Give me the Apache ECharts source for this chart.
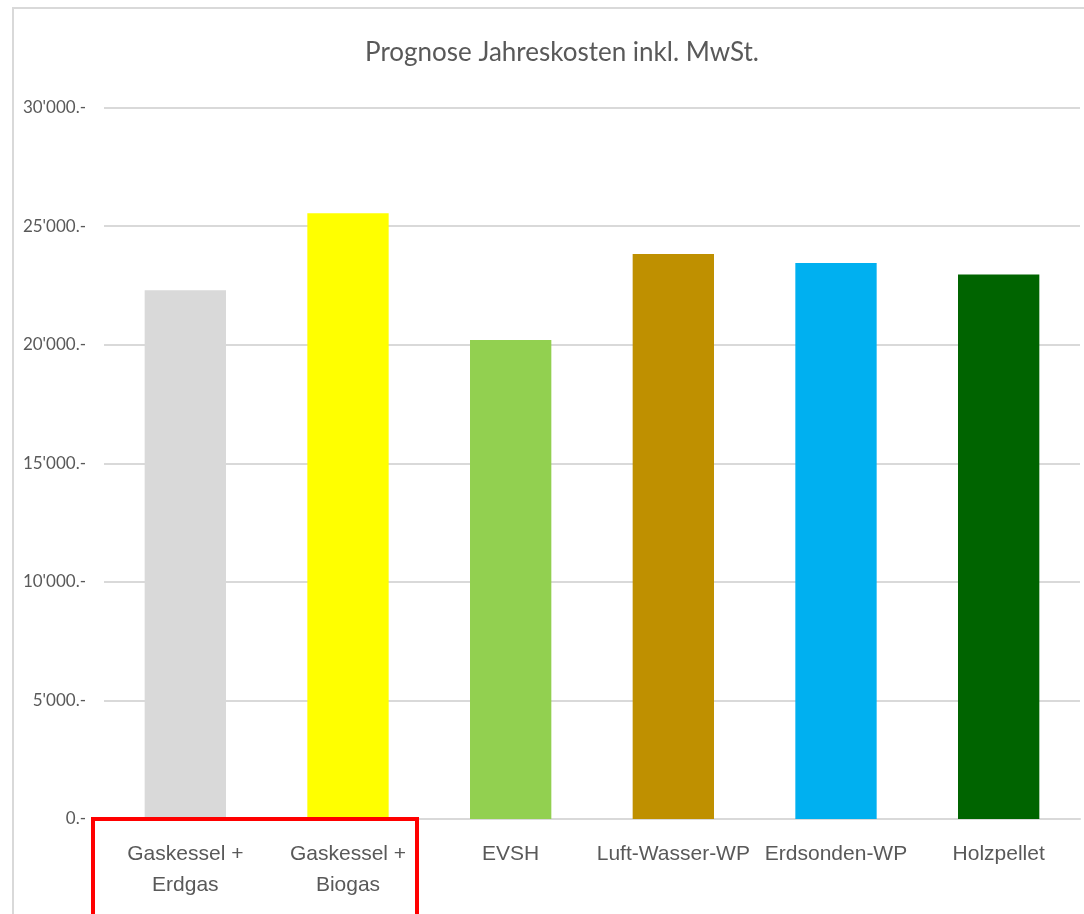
<!DOCTYPE html>
<html lang="de">
<head>
<meta charset="utf-8">
<title>Prognose Jahreskosten inkl. MwSt.</title>
<script src="https://cdn.jsdelivr.net/npm/echarts@6/dist/echarts.min.js"></script>
<style>
  html, body { margin: 0; padding: 0; background: #ffffff; }
  #chart { width: 1084px; height: 914px; }
</style>
</head>
<body>
<div id="chart"></div>
<script>
// Heizsysteme und ihre prognostizierten Jahreskosten (CHF, inkl. MwSt.)
const categories = [
  'Gaskessel +\nErdgas',
  'Gaskessel +\nBiogas',
  'EVSH',
  'Luft-Wasser-WP',
  'Erdsonden-WP',
  'Holzpellet'
];
const annualCosts = [22300, 25550, 20200, 23830, 23450, 22970];
const barColors = ['#d9d9d9', '#ffff00', '#92d050', '#bf9000', '#00b0f0', '#006400'];
const yTicks = [0, 5000, 10000, 15000, 20000, 25000, 30000];

// 25000 -> "25'000.-"
function chf(v) {
  const s = String(Math.round(v)).replace(/\B(?=(\d{3})+(?!\d))/g, "'");
  return s + '.-';
}

const chart = echarts.init(document.getElementById('chart'), null, { renderer: 'canvas' });

chart.setOption({
  animation: false,
  backgroundColor: '#ffffff',
  title: {
    text: 'Prognose Jahreskosten inkl. MwSt.',
    left: 557,
    textAlign: 'center',
    top: 35,
    textStyle: {
      fontFamily: 'Lato',
      fontWeight: 'normal',
      fontSize: 26,
      color: '#595959'
    }
  },
  grid: {
    left: 104,
    right: 4,
    top: 107.7,
    bottom: 95,
    containLabel: false
  },
  xAxis: {
    type: 'category',
    data: categories,
    axisLine: { show: true, lineStyle: { color: '#d9d9d9', width: 2 } },
    axisTick: { show: false },
    axisLabel: {
      interval: 0,
      margin: 20,
      fontFamily: 'Liberation Sans',
      fontSize: 21,
      lineHeight: 31,
      color: '#595959'
    }
  },
  yAxis: {
    type: 'value',
    min: yTicks[0],
    max: yTicks[yTicks.length - 1],
    interval: yTicks[1] - yTicks[0],
    axisLine: { show: false },
    axisTick: { show: false },
    splitLine: { lineStyle: { color: '#d9d9d9', width: 2 } },
    axisLabel: {
      margin: 18,
      fontFamily: 'Lato',
      fontSize: 17,
      color: '#595959',
      formatter: chf
    }
  },
  series: [{
    type: 'bar',
    data: annualCosts.map((v, i) => ({ value: v, itemStyle: { color: barColors[i] } })),
    barWidth: '50%'
  }],
  graphic: [
    {
      // Rahmen des Diagrammbereichs
      type: 'rect',
      shape: { x: 13, y: 8, width: 1200, height: 1000 },
      style: { fill: 'none', stroke: '#d9d9d9', lineWidth: 2 },
      z: -1
    },
    {
      // Hervorhebung der beiden Gaskessel-Varianten
      type: 'rect',
      shape: { x: 93, y: 819, width: 324, height: 200 },
      style: { fill: 'none', stroke: '#ff0000', lineWidth: 4 },
      z: 100
    }
  ]
});
</script>
</body>
</html>
